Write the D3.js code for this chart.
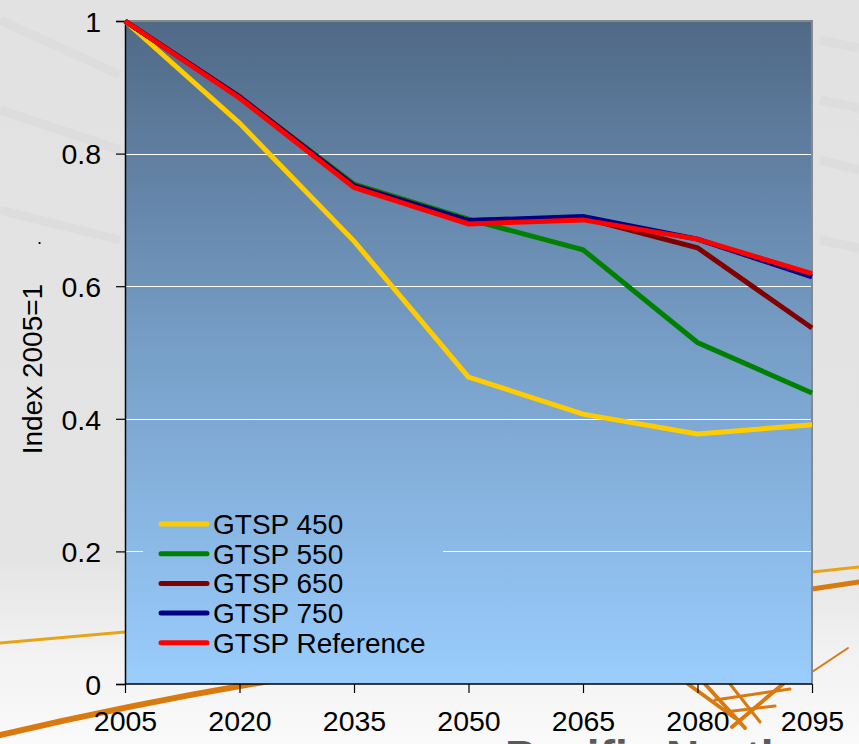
<!DOCTYPE html>
<html>
<head>
<meta charset="utf-8">
<script src="https://cdn.jsdelivr.net/npm/d3@7"></script>
<style>
  body { margin: 0; overflow: hidden; }
  svg { display: block; font-family: Arial, "Liberation Sans", sans-serif; }
</style>
</head>
<body>
<svg width="859" height="744"></svg>
<script>
// chart data
var years = [2005, 2020, 2035, 2050, 2065, 2080, 2095];
var seriesNames = ['GTSP 450', 'GTSP 550', 'GTSP 650', 'GTSP 750', 'GTSP Reference'];
var gtsp450 = [1, 0.846, 0.668, 0.463, 0.407, 0.377, 0.391];
var gtsp550 = [1, 0.885, 0.754, 0.701, 0.655, 0.515, 0.439];
var gtsp650 = [1, 0.886, 0.752, 0.699, 0.703, 0.658, 0.537];
var gtsp750 = [1, 0.885, 0.751, 0.699, 0.705, 0.671, 0.614];
var gtspRef = [1, 0.884, 0.749, 0.694, 0.700, 0.671, 0.619];
var yTicks = [0, 0.2, 0.4, 0.6, 0.8, 1];
var colors = ['#ffcc00', '#008000', '#800000', '#000080', '#ff0000'];

var svg = d3.select('svg');
var svgWidth = +svg.attr('width');
var svgHeight = +svg.attr('height');

// plot box
var padding = {t: 21, r: 47, b: 60, l: 125};
var chartWidth = svgWidth - padding.l - padding.r;
var chartHeight = svgHeight - padding.t - padding.b;

var defs = svg.append('defs');

// slide background
var bgGrad = defs.append('linearGradient')
    .attr('id', 'bgGrad')
    .attr('x1', 0).attr('y1', 0).attr('x2', 0).attr('y2', 1);
bgGrad.append('stop').attr('offset', '0%').attr('stop-color', '#e2e2e2');
bgGrad.append('stop').attr('offset', '75%').attr('stop-color', '#e4e4e4');
bgGrad.append('stop').attr('offset', '88%').attr('stop-color', '#f2f2f2');
bgGrad.append('stop').attr('offset', '100%').attr('stop-color', '#fafafa');

svg.append('rect')
    .attr('width', svgWidth)
    .attr('height', svgHeight)
    .attr('fill', 'url(#bgGrad)');

// faint streaks in the slide background
var streaks = svg.append('g').attr('stroke', '#d9d9d9').attr('stroke-width', 9).attr('fill', 'none').attr('opacity', 0.5);
streaks.append('path').attr('d', 'M0,20 L120,75');
streaks.append('path').attr('d', 'M0,110 L120,150');
streaks.append('path').attr('d', 'M0,210 L120,240');
streaks.append('path').attr('d', 'M820,40 L859,48');
streaks.append('path').attr('d', 'M820,100 L859,108');
streaks.append('path').attr('d', 'M820,160 L859,170');
streaks.append('path').attr('d', 'M820,240 L859,248');

// orange swooshes of the slide template
var swoosh = svg.append('g').attr('fill', 'none').attr('stroke-linecap', 'round');
swoosh.append('path').attr('d', 'M0,643 L125,632').attr('stroke', '#e8a317').attr('stroke-width', 3);
swoosh.append('path').attr('d', 'M0,735 Q150,700 300,676').attr('stroke', '#d87a10').attr('stroke-width', 6);
swoosh.append('path').attr('d', 'M812,572 L859,567').attr('stroke', '#e8a317').attr('stroke-width', 3);
swoosh.append('path').attr('d', 'M812,589 L859,582').attr('stroke', '#d87a10').attr('stroke-width', 5);
swoosh.append('path').attr('d', 'M812,672 L848,648').attr('stroke', '#d87a10').attr('stroke-width', 2);
swoosh.append('path').attr('d', 'M688,684 L735,718').attr('stroke', '#d87a10').attr('stroke-width', 4);
swoosh.append('path').attr('d', 'M705,684 L745,728').attr('stroke', '#d87a10').attr('stroke-width', 4);
swoosh.append('path').attr('d', 'M730,684 L760,722').attr('stroke', '#d87a10').attr('stroke-width', 3);
swoosh.append('path').attr('d', 'M732,727 L783,684').attr('stroke', '#d87a10').attr('stroke-width', 4);
swoosh.append('path').attr('d', 'M715,700 L790,689').attr('stroke', '#d87a10').attr('stroke-width', 3);
swoosh.append('path').attr('d', 'M725,712 L775,706').attr('stroke', '#d87a10').attr('stroke-width', 3);

svg.append('text')
    .attr('x', 505)
    .attr('y', 773)
    .attr('fill', '#5a5a5a')
    .style('font-size', '46px')
    .style('font-weight', 'bold')
    .text('Pacific Northwest');

// plot area gradient (user space of the chart group, shared by the legend box)
var plotGrad = defs.append('linearGradient')
    .attr('id', 'plotGrad')
    .attr('gradientUnits', 'userSpaceOnUse')
    .attr('x1', 0).attr('y1', 0)
    .attr('x2', 0).attr('y2', chartHeight);
plotGrad.append('stop').attr('offset', '0%').attr('stop-color', '#506986');
plotGrad.append('stop').attr('offset', '50%').attr('stop-color', '#779fc8');
plotGrad.append('stop').attr('offset', '100%').attr('stop-color', '#9acdfd');

var chartG = svg.append('g')
    .attr('transform', 'translate(' + [padding.l, padding.t] + ')');

var xScale = d3.scalePoint()
    .domain(years)
    .range([0, chartWidth]);

var yScale = d3.scaleLinear()
    .domain([0, 1])
    .range([chartHeight, 0]);

chartG.append('rect')
    .attr('width', chartWidth)
    .attr('height', chartHeight)
    .attr('fill', 'url(#plotGrad)');

// gridlines
chartG.append('g')
    .attr('class', 'grid')
    .selectAll('line')
    .data(yTicks.filter(function(d) { return d > 0 && d < 1; }))
    .enter()
    .append('line')
    .attr('x1', 0)
    .attr('x2', chartWidth)
    .attr('y1', function(d) { return Math.round(yScale(d)) + 0.5; })
    .attr('y2', function(d) { return Math.round(yScale(d)) + 0.5; })
    .attr('stroke', '#ffffff')
    .attr('stroke-width', 1);

// frame: grey top and right
chartG.append('path')
    .attr('d', 'M0,0 H' + chartWidth + ' V' + chartHeight)
    .attr('fill', 'none')
    .attr('stroke', '#888')
    .attr('stroke-width', 2);

// axes
var yAxis = chartG.append('g')
    .attr('class', 'y axis')
    .call(d3.axisLeft(yScale).tickValues(yTicks).tickSize(9).tickPadding(15)
        .tickFormat(function(d) { return d; }));

var xAxis = chartG.append('g')
    .attr('class', 'x axis')
    .attr('transform', 'translate(0,' + chartHeight + ')')
    .call(d3.axisBottom(xScale).tickSize(9).tickPadding(18));

svg.selectAll('.axis path').attr('stroke', '#000').attr('stroke-width', 1.5);
svg.selectAll('.axis line').attr('stroke', '#000').attr('stroke-width', 1.2);
svg.selectAll('.axis text')
    .attr('fill', '#000')
    .style('font-family', 'Arial, "Liberation Sans", sans-serif')
    .style('font-size', '28.5px');
yAxis.selectAll('text').attr('dy', '0.36em');
xAxis.selectAll('path').attr('d', 'M0,0 H' + chartWidth);

// y label
svg.append('text')
    .attr('transform', 'translate(42,' + (padding.t + yScale(0.475)) + ') rotate(-90)')
    .attr('text-anchor', 'middle')
    .style('font-size', '28px')
    .attr('fill', '#000')
    .text('Index 2005=1');

svg.append('text')
    .attr('x', 37)
    .attr('y', 244)
    .style('font-size', '18px')
    .text('.');

// series
var dataset = seriesNames.map(function(name, i) {
    var vals = [gtsp450, gtsp550, gtsp650, gtsp750, gtspRef][i];
    return {
        name: name,
        color: colors[i],
        values: years.map(function(y, j) { return {year: y, value: vals[j]}; })
    };
});

var line = d3.line()
    .x(function(d) { return xScale(d.year); })
    .y(function(d) { return yScale(d.value); });

chartG.selectAll('.series')
    .data(dataset)
    .enter()
    .append('path')
    .attr('class', 'series')
    .attr('d', function(d) { return line(d.values); })
    .attr('fill', 'none')
    .attr('stroke', function(d) { return d.color; })
    .attr('stroke-width', 5)
    .attr('stroke-linejoin', 'miter');

// legend, boxed with the plot fill so it hides the 0.2 gridline
var legendBox = {x: 18, y: 479, w: 300, h: 172};
chartG.append('rect')
    .attr('x', legendBox.x)
    .attr('y', legendBox.y)
    .attr('width', legendBox.w)
    .attr('height', legendBox.h)
    .attr('fill', 'url(#plotGrad)');

var legendG = chartG.append('g')
    .attr('transform', 'translate(36,503)');

var legendItems = legendG.selectAll('.legend')
    .data(dataset)
    .enter()
    .append('g')
    .attr('class', 'legend')
    .attr('transform', function(d, i) { return 'translate(0,' + (i * 29.7) + ')'; });

legendItems.append('line')
    .attr('x1', 0)
    .attr('x2', 46)
    .attr('stroke', function(d) { return d.color; })
    .attr('stroke-width', 5)
    .attr('stroke-linecap', 'round');

legendItems.append('text')
    .attr('x', 52)
    .attr('dy', '0.36em')
    .style('font-size', '28px')
    .attr('fill', '#000')
    .text(function(d) { return d.name; });
</script>
</body>
</html>
